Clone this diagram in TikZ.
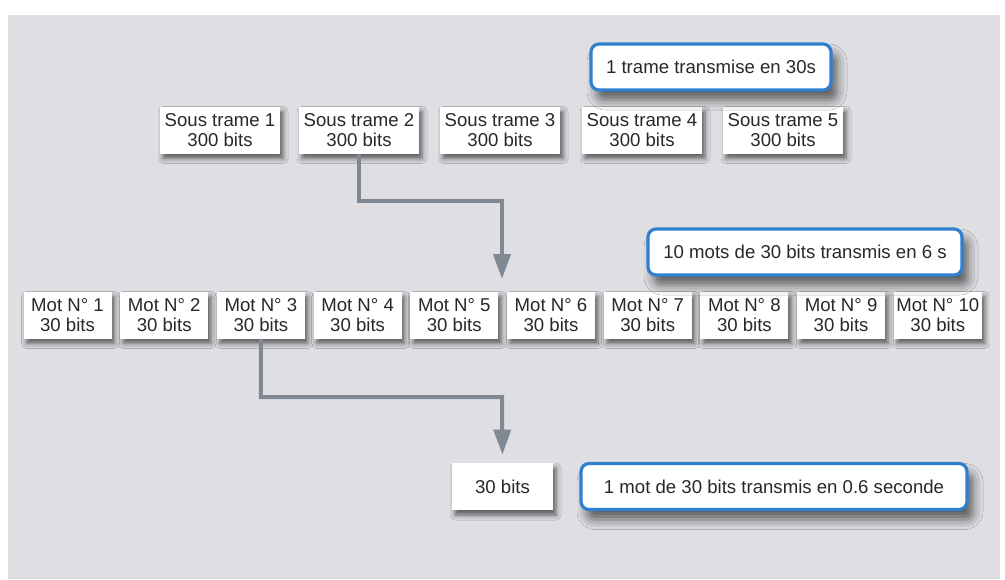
\documentclass[tikz,border=0pt]{standalone}
\usepackage{fontspec}
\setmainfont{Liberation Sans}
\usetikzlibrary{arrows.meta,shadows.blur}

\definecolor{fond}{RGB}{223,223,227}
\definecolor{fleche}{RGB}{128,136,148}
\definecolor{bleu}{RGB}{48,128,208}
\definecolor{texte}{RGB}{40,40,40}

\tikzset{
  boite/.style={fill=white, text=texte, align=center, inner xsep=1pt, inner ysep=1pt,
    minimum height=23.5pt, font=\fontsize{9.3}{9.8}\selectfont,
    blur shadow={shadow xshift=1.5pt, shadow yshift=-2.5pt, shadow blur radius=2.5pt, shadow opacity=60}},
  sousbox/.style={boite, minimum width=60pt},
  motbox/.style={boite, minimum width=44pt},
  bulle/.style={draw=bleu, line width=1.6pt, rounded corners=4pt, fill=white, text=texte,
    minimum height=23pt, font=\fontsize{9.3}{9.8}\selectfont,
    blur shadow={shadow xshift=3pt, shadow yshift=-5pt, shadow blur radius=5pt, shadow opacity=60}},
  flow/.style={draw=fleche, line width=2pt, -{Triangle[length=12.5pt,width=8.5pt]}}
}

\begin{document}
\begin{tikzpicture}[x=0.5pt,y=-0.5pt]
	\useasboundingbox (0,0) rectangle (1005,579);
	\fill [fond] (8,15) rectangle (1000,579);

	% sous trames
	\node (st1) at (220,130) [sousbox] {Sous trame 1\\300 bits};
	\node (st2) at (359,130) [sousbox] {Sous trame 2\\300 bits};
	\node (st3) at (500,130) [sousbox] {Sous trame 3\\300 bits};
	\node (st4) at (642,130) [sousbox] {Sous trame 4\\300 bits};
	\node (st5) at (783,130) [sousbox] {Sous trame 5\\300 bits};
	\node (b1) at (711,67) [bulle, minimum width=120pt] {1 trame transmise en 30s};

	% mots de 30 bits
	\foreach \i in {1,...,10}
		\node (mot\i) at ({67.5+96.7*(\i-1)},315) [motbox] {Mot N° \i\\30 bits};
	\node (b2) at (805,252) [bulle, minimum width=157pt] {10 mots de 30 bits transmis en 6 s};

	% un mot
	\node (bits) at (502.5,486.5) [boite, minimum width=50.5pt] {30 bits};
	\node (b3) at (774,486.5) [bulle, minimum width=193pt] {1 mot de 30 bits transmis en 0.6 seconde};

	% connecteurs
	\coordinate (k1) at (502,201);
	\coordinate (tip1) at (502,279);
	\draw [flow] (st2.south) |- (k1) -- (tip1);
	\coordinate (k2) at (502,397);
	\draw [flow, shorten >=4pt] (mot3.south) |- (k2) -- (bits.north);
\end{tikzpicture}
\end{document}
